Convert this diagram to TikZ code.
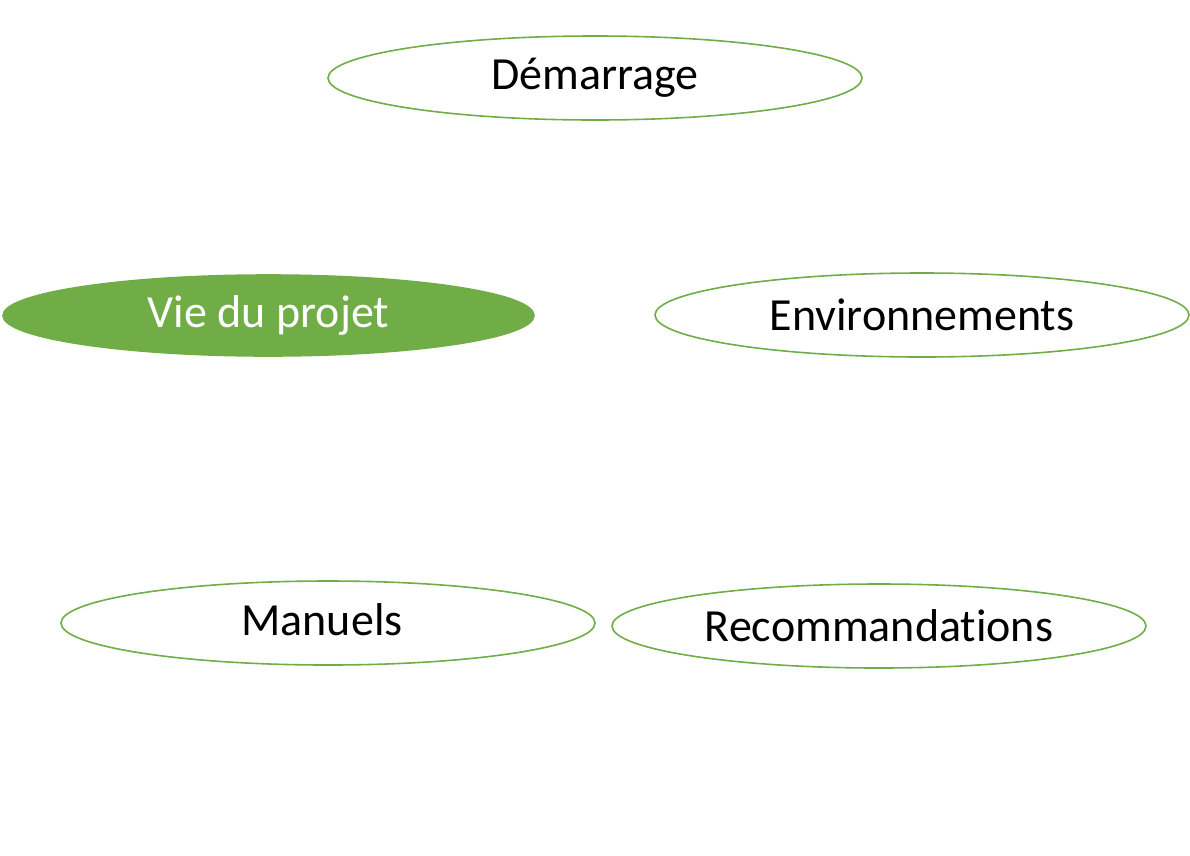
\documentclass[tikz,border=0pt]{standalone}
\usepackage{fontspec}
\setmainfont{Carlito}[RawFeature=-liga]
\usetikzlibrary{shapes.geometric}
\definecolor{grn}{HTML}{70AD47}
\begin{document}
\begin{tikzpicture}[x=1pt,y=-1pt,
  oval/.style={ellipse,draw=grn,line width=1.6pt,inner sep=0pt,
    font=\fontsize{46}{52}\selectfont,text=black},
  ovalfill/.style={oval,fill=grn,text=white}]
\useasboundingbox (0,0) rectangle (1190,855);
\node[oval,minimum width=534pt,minimum height=84pt] (dem) at (595,78) {Démarrage};
\node[ovalfill,minimum width=531pt,minimum height=81pt] (vie) at (268.5,315.5) {Vie du projet};
\node[oval,minimum width=534pt,minimum height=84pt] (env) at (922,315) {Environnements};
\node[oval,minimum width=534pt,minimum height=84pt] (man) at (328,623) {};
\node[font=\fontsize{46}{52}\selectfont] (mant) at (322,620) {Manuels};
\node[oval,minimum width=534pt,minimum height=84pt] (rec) at (879,626) {Recommandations};
\end{tikzpicture}
\end{document}
